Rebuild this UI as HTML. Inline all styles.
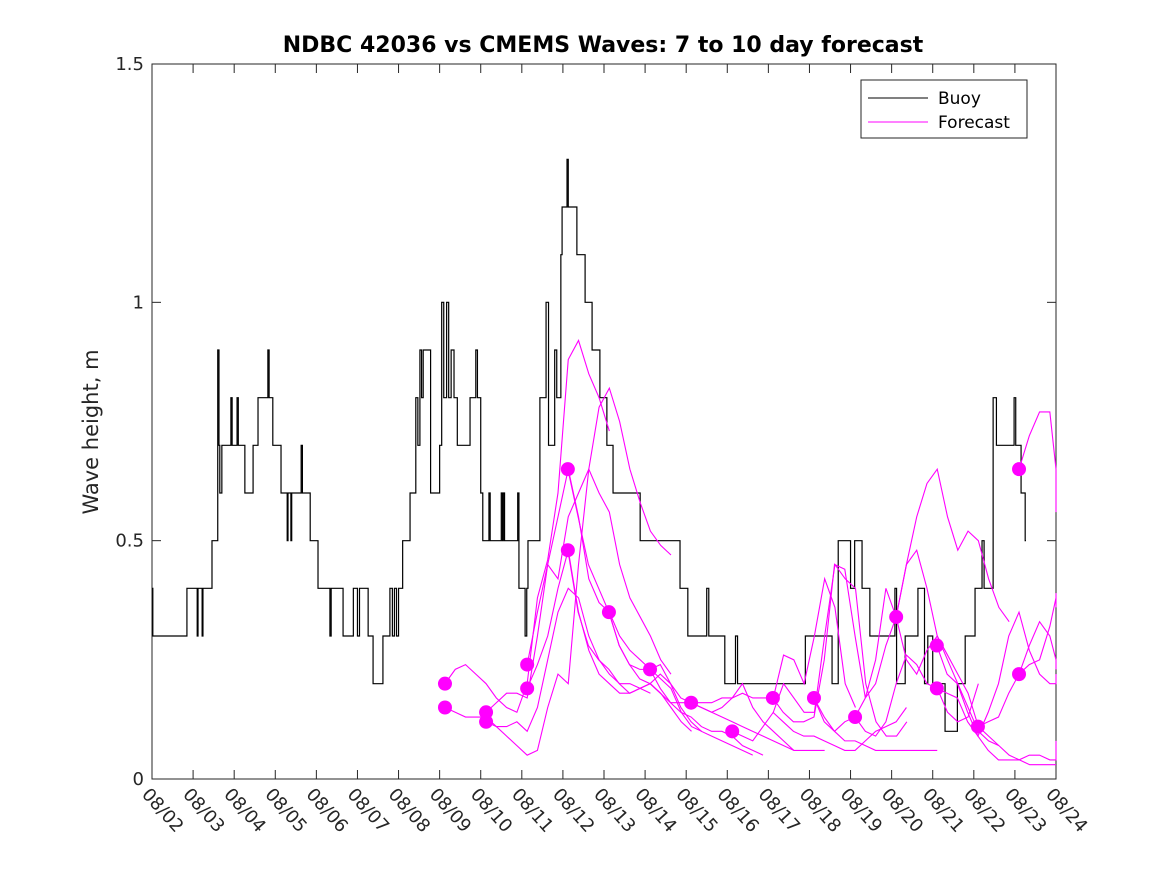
<!DOCTYPE html>
<html><head><meta charset="utf-8"><style>
body{margin:0;background:#fff;}
svg{display:block;font-family:"DejaVu Sans","Liberation Sans",sans-serif;}
</style></head><body>
<svg id="chart" width="1167" height="875" viewBox="0 0 1167 875">
<rect x="0" y="0" width="1167" height="875" fill="#fff"/>
<text x="603" y="52" text-anchor="middle" font-size="22" font-weight="bold" fill="#000">NDBC 42036 vs CMEMS Waves: 7 to 10 day forecast</text>
<text transform="translate(98,432) rotate(-90)" text-anchor="middle" font-size="21" fill="#262626">Wave height, m</text>
<g id="axes"></g>
<g id="series"></g>
<g>
<rect x="861" y="80" width="166" height="58" fill="#fff" stroke="#262626" stroke-width="1"/>
<line x1="868" y1="98" x2="928" y2="98" stroke="#000" stroke-width="1"/>
<text x="938" y="104" font-size="17" fill="#000">Buoy</text>
<line x1="868" y1="122" x2="928" y2="122" stroke="#f0f" stroke-width="1"/>
<text x="938" y="128" font-size="17" fill="#000">Forecast</text>
</g>
</svg>
<script>
const dateLabels=["08/02","08/03","08/04","08/05","08/06","08/07","08/08","08/09","08/10","08/11","08/12","08/13","08/14","08/15","08/16","08/17","08/18","08/19","08/20","08/21","08/22","08/23","08/24"];
const yTicks=[0,0.5,1,1.5];
// buoy: [day since 08/02, height] step values
const buoyDays=[0,0.02,0.85,1.1,1.12,1.22,1.24,1.46,1.6,1.63,1.65,1.7,1.92,1.95,2.07,2.1,2.26,2.46,2.58,2.65,2.82,2.85,2.94,3.14,3.29,3.31,3.38,3.4,3.63,3.66,3.85,4.04,4.33,4.36,4.65,4.9,5.0,5.05,5.26,5.38,5.62,5.79,5.85,5.9,5.95,6.0,6.1,6.28,6.42,6.47,6.52,6.56,6.6,6.78,7.0,7.05,7.1,7.17,7.22,7.28,7.35,7.43,7.74,7.88,7.92,8.0,8.05,8.2,8.23,8.5,8.53,8.55,8.58,8.9,8.93,9.08,9.12,9.15,9.44,9.59,9.65,9.8,9.85,9.95,9.98,10.1,10.13,10.34,10.54,10.71,10.9,11.07,11.22,11.34,11.88,12.85,13.04,13.5,13.55,13.94,14.2,14.25,15.77,15.9,16.55,16.7,17.0,17.1,17.28,17.47,17.72,18.08,18.12,18.33,18.64,18.8,18.88,19.0,19.3,19.6,19.79,20.03,20.2,20.25,20.47,20.55,20.98,21.02,21.15,21.25];
const buoyVals=[0.4,0.3,0.4,0.3,0.4,0.3,0.4,0.5,0.9,0.7,0.6,0.7,0.8,0.7,0.8,0.7,0.6,0.7,0.8,0.8,0.9,0.8,0.7,0.6,0.5,0.6,0.5,0.6,0.7,0.6,0.5,0.4,0.3,0.4,0.3,0.4,0.3,0.4,0.3,0.2,0.3,0.4,0.3,0.4,0.3,0.4,0.5,0.6,0.8,0.7,0.9,0.8,0.9,0.6,0.7,1.0,0.8,1.0,0.8,0.9,0.8,0.7,0.8,0.9,0.8,0.6,0.5,0.6,0.5,0.6,0.5,0.6,0.5,0.6,0.4,0.3,0.4,0.5,0.8,1.0,0.7,0.9,0.8,1.1,1.2,1.3,1.2,1.1,1.0,0.9,0.8,0.7,0.6,0.6,0.5,0.4,0.3,0.4,0.3,0.2,0.3,0.2,0.2,0.3,0.2,0.5,0.4,0.5,0.4,0.3,0.3,0.4,0.2,0.3,0.4,0.2,0.3,0.2,0.1,0.2,0.3,0.4,0.5,0.4,0.8,0.7,0.8,0.7,0.6,0.5];
// forecast runs: start day, then values sampled every 0.25 day
const fcStart=[7.13,7.13,8.13,8.13,9.13,9.13,10.12,10.12,11.12,12.12,13.12,14.12,15.11,16.11,17.11,18.11,19.1,19.1,20.1,21.1,21.1,16.11,15.11];
const fcVals=[
[0.2,0.23,0.24,0.22,0.2,0.17,0.15,0.14,0.2,0.38,0.46,0.6,0.88,0.92,0.85,0.8,0.73],
[0.15,0.14,0.13,0.13,0.13,0.11,0.09,0.07,0.05,0.06,0.15,0.22,0.2,0.45,0.65,0.78,0.82,0.75,0.65,0.58,0.52,0.49,0.47],
[0.14,0.16,0.18,0.18,0.17,0.3,0.45,0.42,0.55,0.6,0.65,0.6,0.56,0.45,0.38,0.34,0.3,0.25,0.22],
[0.12,0.11,0.11,0.12,0.1,0.15,0.25,0.35,0.4,0.38,0.3,0.25,0.22,0.2,0.2,0.19,0.18],
[0.24,0.35,0.45,0.55,0.65,0.55,0.42,0.37,0.35,0.3,0.27,0.25,0.23,0.21,0.19,0.14,0.11,0.1],
[0.19,0.24,0.3,0.4,0.48,0.35,0.27,0.22,0.2,0.18,0.18,0.19,0.2,0.18,0.15,0.12,0.1],
[0.65,0.55,0.45,0.4,0.35,0.28,0.24,0.23,0.23,0.24,0.2,0.15,0.12,0.1,0.09,0.08,0.07,0.06,0.05],
[0.48,0.35,0.28,0.25,0.23,0.2,0.18,0.19,0.2,0.18,0.16,0.14,0.13,0.11,0.1,0.1,0.09,0.07,0.06,0.05],
[0.35,0.28,0.24,0.21,0.2,0.22,0.2,0.17,0.16,0.15,0.14,0.13,0.12,0.11,0.1,0.09,0.08,0.07,0.06],
[0.23,0.19,0.16,0.16,0.16,0.16,0.16,0.17,0.17,0.2,0.15,0.12,0.1,0.08,0.06,0.06,0.06,0.06],
[0.16,0.15,0.14,0.15,0.17,0.18,0.17,0.17,0.17,0.26,0.25,0.2,0.3,0.42,0.36,0.2,0.15],
[0.1,0.09,0.08,0.11,0.14,0.2,0.17,0.14,0.14,0.3,0.45,0.42,0.4,0.2,0.12,0.09,0.09,0.12],
[0.17,0.14,0.12,0.12,0.13,0.25,0.45,0.44,0.3,0.17,0.25,0.4,0.34,0.45,0.55,0.62,0.65,0.55,0.48,0.52,0.5,0.42,0.36,0.33],
[0.17,0.12,0.1,0.12,0.13,0.1,0.09,0.12,0.2,0.26,0.24,0.2,0.19,0.14,0.12,0.13,0.2],
[0.13,0.17,0.2,0.28,0.34,0.45,0.48,0.4,0.3,0.25,0.2,0.15,0.1,0.08,0.07],
[0.34,0.25,0.22,0.27,0.3,0.26,0.22,0.18,0.11,0.09,0.07,0.05,0.04,0.03,0.03,0.03,0.03],
[0.28,0.22,0.2,0.14,0.09,0.06,0.04,0.04,0.04,0.05,0.05,0.04,0.04,0.06,0.08],
[0.19,0.18,0.17,0.12,0.09,0.14,0.2,0.3,0.35,0.27,0.22,0.2,0.2,0.22,0.22,0.22],
[0.11,0.12,0.13,0.18,0.22,0.24,0.25,0.32,0.38,0.39,0.36],
[0.65,0.72,0.77,0.77,0.65,0.56,0.6],
[0.22,0.28,0.33,0.3,0.25,0.23,0.23],
[0.17,0.13,0.1,0.08,0.08,0.07,0.06,0.06,0.06,0.06,0.06,0.06,0.06],
[0.14,0.12,0.1,0.09,0.09,0.08,0.07,0.06,0.06,0.08,0.1,0.11,0.12,0.15]
];
const X0=152,X1=1056,Y0=779,Y1=64,DAYS=22,YMAX=1.5;
function xs(d){return X0+(X1-X0)*d/DAYS;}
function ys(v){return Y0-(Y0-Y1)*v/YMAX;}
const NS="http://www.w3.org/2000/svg";
const axes=document.getElementById('axes');
const series=document.getElementById('series');
function mk(tag,attrs,parent){const e=document.createElementNS(NS,tag);for(const k in attrs)e.setAttribute(k,attrs[k]);parent.appendChild(e);return e;}
const frame=mk('rect',{x:X0,y:Y1,width:X1-X0,height:Y0-Y1,fill:'none',stroke:'#262626','stroke-width':1},axes);


dateLabels.forEach((lab,i)=>{
  const x=xs(i);
  mk('line',{x1:x,y1:Y0,x2:x,y2:Y0-9,stroke:'#262626'},axes);
  mk('line',{x1:x,y1:Y1,x2:x,y2:Y1+9,stroke:'#262626'},axes);
  const t=mk('text',{transform:`translate(${x-11},${Y0+16}) rotate(48)`,'font-size':18,fill:'#262626'},axes);
  t.textContent=lab;
  
  
});
yTicks.forEach(v=>{
  const y=ys(v);
  mk('line',{x1:X0,y1:y,x2:X0+9,y2:y,stroke:'#262626'},axes);
  mk('line',{x1:X1,y1:y,x2:X1-9,y2:y,stroke:'#262626'},axes);
  const t=mk('text',{x:X0-8,y:y+6,'text-anchor':'end','font-size':18,fill:'#262626'},axes);
  t.textContent=String(v);
  
  
});
// buoy stepped line
let d='';
for(let i=0;i<buoyDays.length;i++){
  const x=xs(buoyDays[i]),y=ys(buoyVals[i]);
  if(i===0)d+=`M${x},${y}`;else d+=`H${x}V${y}`;
}
d+=`H${xs(21.27)}`;
const bl=mk('path',{d:d,fill:'none',stroke:'#000','stroke-width':1.2},series);


fcVals.forEach((vals,k)=>{
  const s=fcStart[k];
  const pts=vals.map((v,i)=>[xs(Math.min(s+i*0.25,DAYS)),ys(v)]);
  const p=mk('polyline',{points:pts.map(p=>p.join(',')).join(' '),fill:'none',stroke:'#f0f','stroke-width':1.1},series);
  
  
  if(k<21){
    const c=mk('circle',{cx:pts[0][0],cy:pts[0][1],r:7,fill:'#f0f'},series);
    
    
  }
});
</script>
</body></html>
